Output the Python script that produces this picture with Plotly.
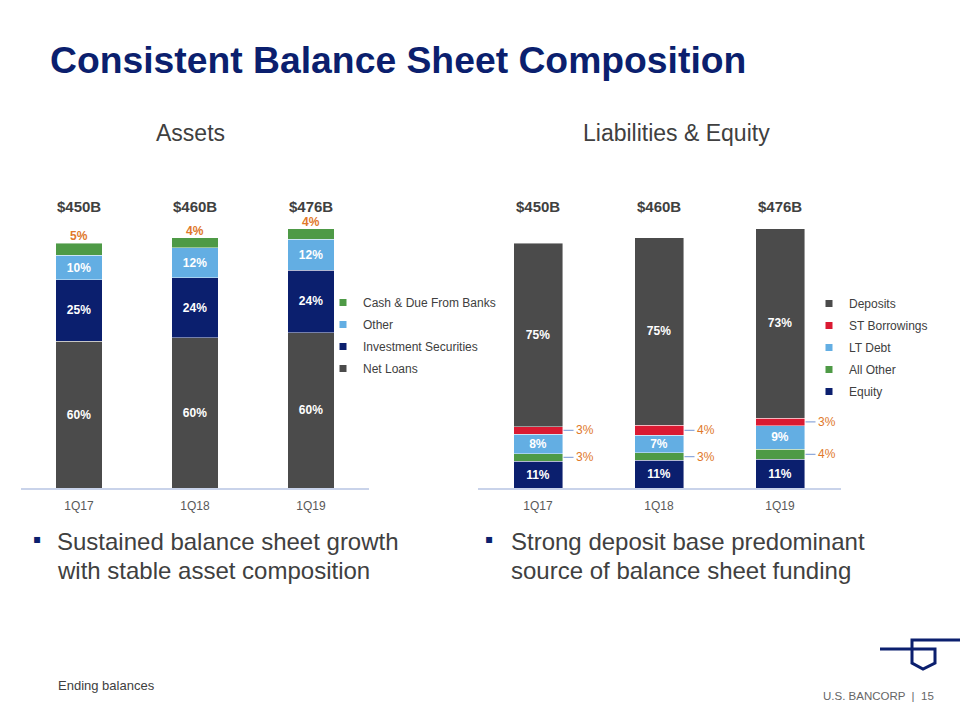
import plotly.graph_objects as go

# ---------------- data ----------------
periods = ["1Q17", "1Q18", "1Q19"]
totals = [450, 460, 476]            # $B
total_labels = ["$450B", "$460B", "$476B"]

# Assets composition (%), bottom -> top
asset_series = ["Net Loans", "Investment Securities", "Other", "Cash & Due From Banks"]
net_loans = [60, 60, 60]
investment_securities = [25, 24, 24]
other_assets = [10, 12, 12]
cash_due = [5, 4, 4]

# Liabilities & Equity composition (%), bottom -> top
liab_series = ["Equity", "All Other", "LT Debt", "ST Borrowings", "Deposits"]
equity = [11, 11, 11]
all_other = [3, 3, 4]
lt_debt = [8, 7, 9]
st_borrowings = [3, 4, 3]
deposits = [75, 75, 73]

# ---------------- style ----------------
FONT = "Liberation Sans, Arial, sans-serif"
NAVY = "#0B1F6E"
GREY = "#4B4B4B"
LBLUE = "#63AEE3"
GREEN = "#4E9A46"
RED = "#DA1A32"
ORANGE = "#E0782A"
TXT = "#404040"
AXIS = "#C9D3EA"

W, H = 960, 720
def px(x):
    return x / W
def py(y):
    return 1 - y / H

BASE_Y = 488
TOP_Y = 200
Y_MAX = (BASE_Y - TOP_Y) * totals[0] / 245.0
BARGAP = 0.595

fig = go.Figure()

def seg_values(pcts):
    return [t * p / 100.0 for t, p in zip(totals, pcts)]

def add_stack(names, pct_lists, colors, labelled, xa, ya, legend):
    for name, pcts, col, lab in zip(names, pct_lists, colors, labelled):
        fig.add_trace(go.Bar(
            x=periods, y=seg_values(pcts), name=name,
            marker=dict(color=col, line=dict(color="rgba(255,255,255,0.55)", width=0.8)),
            text=[f"{p}%" for p in pcts] if lab else None,
            texttemplate="<b>%{text}</b>" if lab else None,
            textposition="inside" if lab else "none",
            insidetextanchor="middle",
            textangle=0,
            textfont=dict(color="white", size=12, family=FONT),
            xaxis=xa, yaxis=ya, showlegend=False, hoverinfo="skip",
        ))
    # legend entries (small square markers), listed top -> bottom as in the stack
    for name, col in reversed(list(zip(names, colors))):
        fig.add_trace(go.Scatter(
            x=[None], y=[None], mode="markers", name=name,
            marker=dict(symbol="square", size=7, color=col),
            xaxis=xa, yaxis=ya, legend=legend, legendgroup=name,
            showlegend=True, hoverinfo="skip",
        ))

add_stack(asset_series,
          [net_loans, investment_securities, other_assets, cash_due],
          [GREY, NAVY, LBLUE, GREEN],
          [True, True, True, False], "x", "y", "legend")

add_stack(liab_series,
          [equity, all_other, lt_debt, st_borrowings, deposits],
          [NAVY, GREEN, LBLUE, RED, GREY],
          [True, False, True, False, True], "x2", "y2", "legend2")

annotations = []

# total labels above each chart
for xref in ("x", "x2"):
    for p, lab in zip(periods, total_labels):
        annotations.append(dict(x=p, xref=xref, y=py(206.5), yref="paper",
                                xanchor="center", yanchor="middle",
                                text=f"<b>{lab}</b>", showarrow=False,
                                font=dict(size=15, color=TXT, family=FONT)))

# cash labels above asset bars
for p, t, c in zip(periods, totals, cash_due):
    annotations.append(dict(x=p, xref="x", y=t, yref="y", xanchor="center",
                            yanchor="bottom", yshift=-2,
                            text=f"<b>{c}%</b>", showarrow=False,
                            font=dict(size=12, color=ORANGE, family=FONT)))

# outside labels with leader lines for ST Borrowings and All Other
eq_v = seg_values(equity)
ao_v = seg_values(all_other)
lt_v = seg_values(lt_debt)
st_v = seg_values(st_borrowings)
cat_px = (840.5 - 477.5) / 3
half_bar = cat_px * (1 - BARGAP) / 2
for i, p in enumerate(periods):
    ao_mid = eq_v[i] + ao_v[i] / 2
    st_mid = eq_v[i] + ao_v[i] + lt_v[i] + st_v[i] / 2
    for mid, val in ((ao_mid, all_other[i]), (st_mid, st_borrowings[i])):
        annotations.append(dict(x=p, xref="x2", y=mid, yref="y2",
                                xshift=half_bar + 1, showarrow=True, arrowhead=0,
                                arrowwidth=1.3, arrowcolor="#8FAADC", ax=10, ay=0,
                                xanchor="left", yanchor="middle", standoff=0,
                                text=f"{val}%",
                                font=dict(size=12, color=ORANGE, family=FONT)))

# titles and text
annotations += [
    dict(x=px(48), y=py(60), xref="paper", yref="paper", xanchor="left", yanchor="middle",
         text="<b>Consistent Balance Sheet Composition</b>", showarrow=False,
         font=dict(size=37.3, color=NAVY, family=FONT)),
    dict(x=px(190), y=py(133), xref="paper", yref="paper", xanchor="center", yanchor="middle",
         text="Assets", showarrow=False,
         font=dict(size=23, color=TXT, family=FONT)),
    dict(x=px(676), y=py(133), xref="paper", yref="paper", xanchor="center", yanchor="middle",
         text="Liabilities &amp; Equity",
         showarrow=False, font=dict(size=23, color=TXT, family=FONT)),
    dict(x=px(56), y=py(685), xref="paper", yref="paper", xanchor="left", yanchor="middle",
         text="Ending balances", showarrow=False, font=dict(size=13, color=TXT, family=FONT)),
    dict(x=px(936), y=py(696), xref="paper", yref="paper", xanchor="right", yanchor="middle",
         text="U.S. BANCORP &nbsp;|&nbsp; 15", showarrow=False,
         font=dict(size=11.5, color="#666666", family=FONT)),
]

bullets = [
    (37, 55, ["Sustained balance sheet growth", "with stable asset composition"]),
    (489, 509, ["Strong deposit base predominant", "source of balance sheet funding"]),
]
for bx, tx, lines in bullets:
    annotations.append(dict(x=px(bx), y=py(539), xref="paper", yref="paper",
                            xanchor="center", yanchor="middle",
                            text="▪", showarrow=False,
                            font=dict(size=12, color=NAVY, family="DejaVu Sans")))
    for k, line in enumerate(lines):
        annotations.append(dict(x=px(tx), y=py(541 + 29 * k), xref="paper", yref="paper",
                                xanchor="left", yanchor="middle", text=line, showarrow=False,
                                font=dict(size=24, color=TXT, family=FONT)))

# logo
pts = [(880, 649), (935, 649), (935, 663), (923, 669), (912, 663), (912, 640), (960, 640)]
path = "M " + " L ".join(f"{px(x):.5f},{py(y):.5f}" for x, y in pts)
shapes = [dict(type="path", path=path, xref="paper", yref="paper",
               line=dict(color=NAVY, width=3))]

axis_common = dict(showline=True, linecolor=AXIS, linewidth=1.5, ticks="",
                   showgrid=False, zeroline=False, fixedrange=True,
                   tickfont=dict(size=12, color="#595959", family=FONT),
                   ticklabelstandoff=6)
yaxis_common = dict(range=[0, Y_MAX], domain=[py(BASE_Y), py(TOP_Y)], visible=False,
                    showgrid=False, zeroline=False, fixedrange=True)

legend_common = dict(font=dict(size=12, color=TXT, family=FONT),
                     traceorder="grouped", tracegroupgap=3,
                     bgcolor="rgba(0,0,0,0)", itemclick=False, itemdoubleclick=False,
                     xanchor="left", yanchor="top", itemwidth=30)

fig.update_layout(
    width=W, height=H,
    margin=dict(l=0, r=0, t=0, b=0),
    paper_bgcolor="white", plot_bgcolor="white",
    barmode="stack", bargap=BARGAP,
    uniformtext=dict(minsize=12, mode="show"),
    font=dict(family=FONT, color=TXT),
    xaxis=dict(domain=[px(21), px(369)], anchor="y", **axis_common),
    yaxis=dict(anchor="x", **yaxis_common),
    xaxis2=dict(domain=[px(477.5), px(840.5)], anchor="y2", **axis_common),
    yaxis2=dict(anchor="x2", **yaxis_common),
    legend=dict(x=px(323), y=py(288), **legend_common),
    legend2=dict(x=px(809), y=py(289), **legend_common),
    annotations=annotations,
    shapes=shapes,
    showlegend=True,
    hovermode=False,
)

fig.write_html("out.html", config={"displayModeBar": False},
               post_script="document.body.style.margin='0px';")
